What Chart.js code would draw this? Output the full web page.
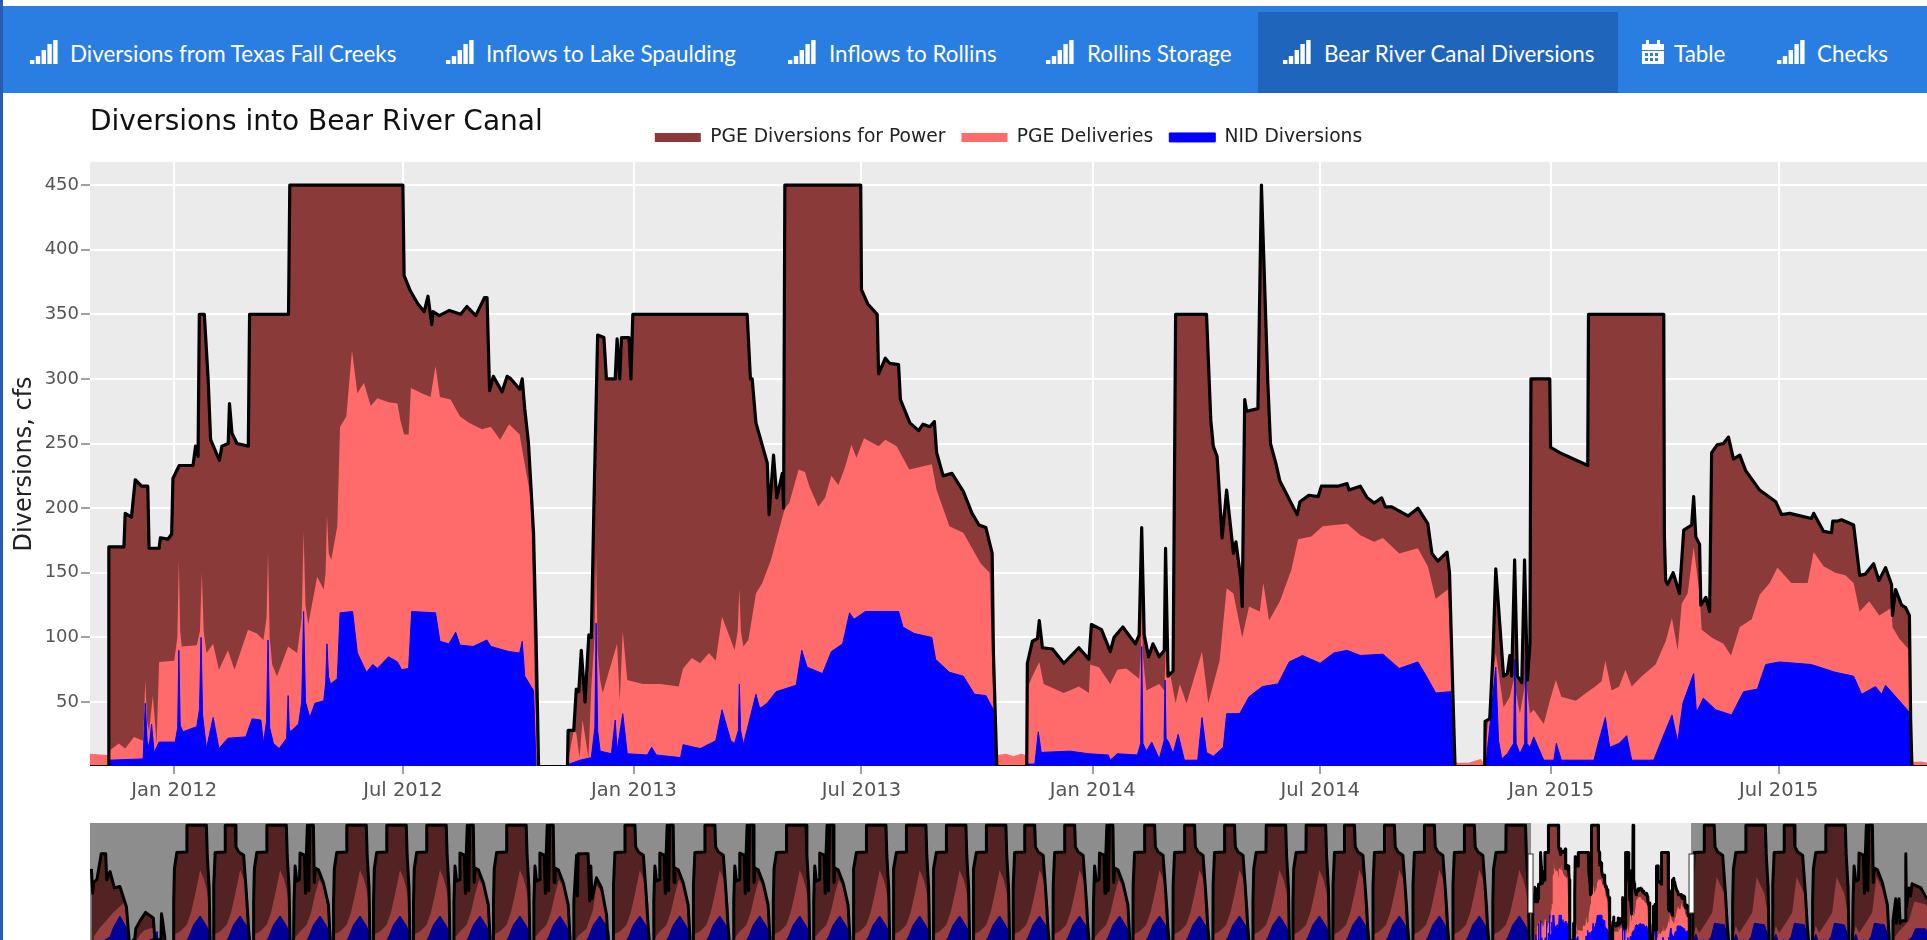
<!DOCTYPE html>
<html>
<head>
<meta charset="utf-8">
<title>Bear River Canal Diversions</title>
<script src="https://cdn.jsdelivr.net/npm/chart.js@4"></script>
<style>
  html, body { margin: 0; padding: 0; width: 1927px; height: 940px; overflow: hidden; background: #fff; }
  #edge { position: absolute; left: 0; top: 0; width: 3px; height: 940px; background: #2a5cb3; }
  #nav { position: absolute; left: 3px; top: 6px; width: 1924px; height: 87px; background: #2a7de1; }
  #active { position: absolute; left: 1258px; top: 12px; width: 360px; height: 81px; background: #1f65bb; }
  .tab { position: absolute; top: 40px; height: 28px; line-height: 28px; color: #fff; white-space: nowrap;
         font-family: Lato, sans-serif; font-size: 22.4px; }
  .tab svg { position: absolute; top: 0; fill: #fff; }
  #mainChart { position: absolute; left: 0; top: 93px; }
  #sliderChart { position: absolute; left: 0; top: 823px; }
</style>
</head>
<body>
<div id="edge"></div>
<div id="nav"></div>
<div id="active"></div>
<svg width="0" height="0" style="position:absolute">
  <symbol id="bars" viewBox="0 0 28 24"><rect x="0" y="20" width="4.4" height="4"/><rect x="5.8" y="16" width="4.4" height="8"/><rect x="11.6" y="10" width="4.4" height="14"/><rect x="17.4" y="4" width="4.4" height="20"/><rect x="23.2" y="0" width="4.4" height="24"/></symbol>
  <symbol id="calendar" viewBox="0 0 22 24"><path d="M0 4h4V0h3v4h8V0h3v4h4v6H0zM0 11h22v13H0zM3 13v3h3v-3zM8 13v3h3v-3zM13 13v3h3v-3zM3 18v3h3v-3zM8 18v3h3v-3zM13 18v3h3v-3z" fill-rule="evenodd"/></symbol>
</svg>
<div id="tabs"></div>
<canvas id="mainChart" width="1927" height="722"></canvas>
<canvas id="sliderChart" width="1927" height="117"></canvas>

<script>
// Nav bar
const tabLabels = ['Diversions from Texas Fall Creeks', 'Inflows to Lake Spaulding', 'Inflows to Rollins', 'Rollins Storage', 'Bear River Canal Diversions', 'Table', 'Checks']
const tabIcons = ['bars', 'bars', 'bars', 'bars', 'bars', 'calendar', 'bars']
const tabIconLeft = [30, 446, 788, 1046, 1283, 1642, 1777]
const tabTextLeft = [70, 486, 829, 1087, 1324, 1674, 1817]

// Axes. X values are days counted from 1 Jan 2012
const tickDays = [0, 182, 366, 547, 731, 912, 1096, 1277]
const tickLabels = ['Jan 2012', 'Jul 2012', 'Jan 2013', 'Jul 2013', 'Jan 2014', 'Jul 2014', 'Jan 2015', 'Jul 2015']
const yTicks = [50, 100, 150, 200, 250, 300, 350, 400, 450]
const windowDays = [-67, 1395]
const sliderDays = [-13234, 3551]

// Series as [day, cfs], one list per water year
const total2012 = [[-67,0],[-52.5,0],[-52,170],[-40,170],[-39,196],[-34,193],[-31,222],[-26,217],[-21,217],[-20,169],[-12,169],[-11,177],[-5,176],[-2,180],[-1,223],[4,233],[15,233],[17,248],[19,240],[20,350],[24,350],[27,300],[29,253],[36,237],[38,248],[43,250],[44,281],[46,258],[50,250],[59,248],[60,350],[91,350],[92,450],[182,450],[183,380],[188,368],[194,358],[199,352],[202,364],[205,342],[206,352],[211,349],[219,353],[228,350],[233,356],[240,349],[247,363],[249,363],[251,291],[254,302],[261,290],[265,302],[268,300],[275,292],[277,300],[279,277],[282,250],[286,181],[288,100],[290,0]]
const total2013 = [[291,0],[313,0],[313.5,28],[318,28],[320,60],[322,58],[324,90],[327,50],[330,102],[332,100],[334,200],[337,334],[342,332],[344,300],[351,300],[352.5,331],[354.6,300],[356,332],[362,332],[363.5,300],[365,350],[456,350],[458.6,300],[460,300],[463,266],[472,235],[473.5,195],[477,241],[479.6,208],[484,227],[485,200],[486,450],[546.4,450],[547,369],[552,358],[559.5,350],[560.6,304],[566,316],[569.5,312],[576.5,311],[578,284],[585.5,266],[592.5,260],[596,265],[601.4,263],[605,267],[606.8,243],[612,225],[619,227],[628,213],[635,196],[640.5,187],[646,185],[651,165],[652,88],[654.7,0]]
const total2014 = [[655,0],[678.5,0],[679,80],[683,97],[687,99],[688.5,113],[691,92],[699,91],[708,80],[713,85],[720,92],[728,83],[730,110],[738,106],[745,89],[748,100],[755,108],[765,95],[768,102],[770,185],[772,102],[775.5,85],[779,95],[784,85],[788,90],[789,169],[791,70],[795,74],[797,350],[821.6,350],[825,268],[827,248],[830,240],[834,177],[837.6,214],[843,165],[845,174],[849,144],[850,124],[852,284],[853.5,275],[862.5,277],[865.3,450],[870.3,299],[872.5,250],[876.7,235],[880,221],[893.7,195],[896,205],[903,210],[910.5,209],[913,217],[926,217],[933.5,219],[935,214],[944,217],[949.5,208],[955,204],[961,208],[964,201],[969,201],[982,194],[989.8,200],[997.7,188],[1001,165],[1005.7,159],[1013,166],[1015,150],[1017.5,62],[1019.4,0]]
const total2015 = [[1020,0],[1043,0],[1043.3,35],[1047,37],[1049.6,88],[1051.8,153],[1058,70],[1061,72],[1063,86],[1064.5,70],[1066.8,160],[1069,70],[1072.5,65],[1074.7,160],[1077,67],[1079,95],[1079.8,300],[1094.8,300],[1095.4,247],[1102.7,243],[1125,233],[1125.6,350],[1185.5,350],[1186,178],[1187,144],[1188.6,141],[1193,150],[1198,134],[1201.4,183],[1207.7,187],[1209.3,209],[1211,178],[1214,172],[1215,125],[1219,131],[1222,120],[1223.6,243],[1228,249],[1233,250],[1237,255],[1241,238],[1246,241],[1250.7,229],[1261.8,214],[1274.6,205],[1279.3,195],[1285.7,196],[1303,192],[1304.8,196],[1312.7,182],[1319,181],[1320,190],[1324,190],[1327,191],[1336.6,187],[1341.4,148],[1346,149],[1352.5,157],[1356.7,144],[1362,154],[1366.8,141],[1367.5,117],[1370,137],[1374.8,125],[1378,123],[1381,117],[1382,36],[1383,0],[1395,0]]

const pge2012 = [[-67,10],[-53,9],[-50.7,13],[-44,18],[-39,14],[-32,23],[-24.7,20],[-23,67],[-21.5,35],[-20,27],[-17,55],[-14,18],[-12,81],[0,82],[2.5,100],[3.7,160],[4.8,105],[6,93],[18,94],[20.5,105],[22,150],[23.5,105],[25.7,88],[31,95],[35.6,75],[42.8,90],[48,75],[58.7,106],[65.8,103],[71,98],[73.5,115],[74.7,166],[76,100],[78,79],[81.8,70],[90.7,93],[97.8,88],[101.5,115],[103,182],[104.5,125],[106.7,110],[113.8,147],[119,137],[120.5,150],[121.6,195],[123,165],[125,160],[129.8,186],[132,263],[137,271],[141.5,322],[145.8,289],[151,297],[156.4,279],[161.7,285],[170.6,282],[177.7,281],[180,268],[183,257],[186.6,257],[188.4,293],[197,289],[204,286],[208,310],[211.5,286],[220,284],[227.5,271],[234.6,266],[245,261],[252,263],[259.4,253],[266.5,265],[275,257],[277,245],[284,207],[287,62],[289.6,0]]
const pge2013 = [[290,0],[312,0],[313,2],[318,28],[320,26],[322.6,7],[325,36],[329.7,7],[332,62],[334.5,100],[335.8,166],[337,90],[339,67],[341,57],[352.5,95],[354.6,51],[357,105],[360.6,67],[373,64],[387,64],[401.5,62],[405,76],[412,84],[418.6,80],[425.6,88],[431,82],[436,116],[443,98],[446,90],[448.5,105],[449.8,138],[451,105],[453,93],[457,98],[463,134],[468,142],[475,160],[480.7,181],[486,200],[489.5,204],[497,230],[502,228],[505.5,217],[512.6,201],[518,208],[523,225],[528.6,218],[534,232],[539,249],[543,239],[549,254],[560.6,248],[566,253],[575,248],[585,230],[603,234],[606.8,214],[617,186],[628,181],[635,169],[642,157],[649,150],[652,49],[654.7,9]]
const pge2014 = [[655,9],[662,10],[668,8],[674,10],[678,9],[679.6,62],[683,70],[688.5,81],[692,64],[708,57],[720,62],[728,57],[729,79],[736,77],[745,64],[750.6,75],[757.7,76],[768,68],[769.3,85],[770,126],[771,85],[773.7,59],[784,64],[788,59],[789.7,107],[791,80],[793,70],[797,49],[800.3,64],[805.7,49],[818,89],[823,49],[832,82],[837.6,138],[843,134],[850,100],[855.4,124],[864,120],[866.8,142],[871.4,113],[880,128],[889,152],[894.5,176],[905,178],[914,186],[933.5,188],[944,179],[955,174],[962,177],[975,165],[989.8,169],[997.7,155],[1004,130],[1013.6,137],[1016,88],[1018.4,10],[1019.4,2]]
const pge2015 = [[1020,3],[1030,3],[1040,6],[1042,3],[1051.8,88],[1058,46],[1063,54],[1066,67],[1071,41],[1075.7,67],[1079,41],[1082,44],[1090,33],[1094.8,51],[1099.6,67],[1104,54],[1115.5,51],[1125,58],[1131,62],[1136,66],[1139,82],[1144,59],[1150,62],[1155,75],[1160,62],[1168,70],[1179,79],[1187,97],[1192,115],[1196.6,90],[1199.8,126],[1204.5,134],[1209.3,170],[1214,134],[1215.7,106],[1223.6,100],[1233,95],[1239,86],[1246,108],[1255.5,114],[1261.8,133],[1269.8,142],[1276,154],[1287,142],[1300,142],[1304.8,166],[1312.7,155],[1322,150],[1330,148],[1336.6,142],[1341.4,120],[1349,128],[1357,117],[1366.8,123],[1367.5,108],[1373,99],[1381,90],[1382,36],[1383,3.5],[1390,4],[1395,3]]

const nid2012 = [[-67,0],[-53,0],[-51.4,5],[-24.7,6],[-23,49],[-21.5,20],[-20,14],[-18,33],[-16,11],[-12,19],[0.8,19],[2.8,30],[3.7,90],[4.8,32],[7,27],[18,31],[20.2,45],[21.4,100],[22.6,40],[25.7,14],[31,38],[35.6,14],[42.8,22],[57,23],[62,37],[69,36],[71,18],[73.5,35],[74.7,98],[76,30],[79,18],[83.6,14],[89.5,22],[90.7,55],[91.6,30],[92.5,27],[99,33],[101.5,50],[103,120],[104.5,50],[108,38],[112,49],[119,51],[120.6,65],[121.6,95],[122.8,70],[124.4,64],[129.8,68],[132,119],[142,120],[145.8,88],[153,73],[158,79],[161.7,76],[170.6,85],[177.7,81],[181,75],[186.6,76],[189,120],[208,119],[211.5,97],[218.6,95],[224,104],[227.5,94],[238,93],[248.8,98],[252,93],[266.5,89],[275,88],[277,97],[279,70],[284,62],[286,59],[288,0]]
const nid2013 = [[289,0],[312,0],[314.5,2],[323,5],[332,7],[334.8,30],[335.8,111],[337,28],[339,12],[348,10],[351,36],[352.5,12],[357,41],[360.6,10],[376.6,9],[380,15],[383.7,9],[403,7],[405,17],[418.6,14],[431,20],[436,44],[443,20],[446,18],[449,28],[449.8,64],[450.8,28],[453,17],[463,56],[466,45],[471.8,49],[479,58],[495,63],[499.5,90],[503.7,77],[516,72],[523,89],[532,95],[537.5,119],[541,114],[550,120],[576.6,120],[580,108],[589,103],[603,100],[606,83],[617,73],[628,70],[637,56],[646,55],[652,44],[654.7,0]]
const nid2014 = [[678,0],[679.6,2],[685,2],[687.7,27],[690,11],[713,12],[727.5,10],[743.5,9],[745,5],[750.6,10],[766.6,9],[769.2,18],[770,93],[771,18],[773.7,12],[778,19],[784,6],[787.8,20],[788.6,67],[789.4,22],[791.5,19],[795,10],[799,25],[804,5],[814.6,5],[818,38],[821.6,11],[827,8],[835,15],[837.6,41],[848,41],[855.4,54],[866,62],[878.5,64],[887.4,81],[898,86],[912,80],[923,88],[933.5,90],[944,86],[962,87],[975,76],[989.8,81],[996,71],[1004,57],[1016,58],[1018.4,0]]
const nid2015 = [[1020,0],[1043,0],[1044,2],[1048.6,46],[1051.8,77],[1054,20],[1056.6,6],[1061,10],[1066,18],[1067,83],[1068,18],[1071,10],[1074.8,18],[1075.7,83],[1076.7,18],[1079,15],[1082,23],[1090,5],[1098,5],[1100,18],[1104,5],[1130,5],[1133,17],[1139,38],[1142.5,15],[1150,18],[1156,24],[1160,5],[1177.5,5],[1184,21],[1192,40],[1196.6,19],[1200.7,49],[1209.3,72],[1211.5,42],[1217,53],[1226.8,44],[1239.5,40],[1249,58],[1260,60],[1266.6,79],[1277.7,81],[1303,79],[1322,73],[1336.6,70],[1343,56],[1354,62],[1358.9,56],[1362,63],[1373,51],[1381,42],[1383,0],[1395,0]]

// Range slider: the whole record, read year by year as one of a few seasonal shapes.
// [day of the season, cfs]
const shapeTotalA = [[0,0],[1,170],[8,290],[30,350],[120,352],[122,450],[300,450],[308,340],[325,220],[335,0]]
const shapeTotalB = [[0,0],[2,230],[15,350],[105,352],[107,450],[198,450],[205,370],[230,352],[275,340],[300,200],[318,80],[335,0]]
const shapeTotalC = [[0,0],[5,170],[15,300],[30,245],[55,250],[60,348],[100,340],[110,200],[118,345],[127,450],[140,210],[150,450],[182,450],[190,240],[198,293],[228,286],[274,238],[319,158],[340,0]]
const shapeTotalD = [[0,0],[5,170],[30,340],[38,190],[45,345],[135,345],[150,172],[160,300],[170,180],[212,257],[258,220],[304,121],[320,0]]
const shapeTotalF = [[-20,290],[-8,200],[0,240],[30,250],[70,345],[110,345],[120,250],[150,280],[190,220],[240,225],[300,150],[330,0]]
const shapeTotalL = [[0,30],[10,30],[20,70],[60,100],[110,130],[180,110],[195,30],[250,30],[255,125],[265,100],[290,20],[300,0]]
const shapeTotalH = [[0,0],[5,100],[30,180],[35,90],[60,180],[70,90],[90,100],[120,100],[122,345],[128,150],[150,220],[165,190],[180,235],[260,220],[300,190],[320,180]]

const shapePge = [[0,30],[10,50],[60,60],[120,84],[160,130],[196,194],[243,286],[280,250],[305,209],[325,150],[335,0]]
const shapePgeLow = [[0,30],[60,60],[120,84],[160,130],[200,200],[235,250],[274,225],[319,150],[335,0]]
const shapePgeD = [[0,20],[60,50],[120,70],[180,140],[212,230],[258,205],[304,115],[318,0]]
const shapePgeF = [[0,40],[50,70],[180,130],[290,170],[320,100],[330,0]]
const shapePgeL = [[0,10],[60,50],[100,65],[180,75],[195,10],[255,10],[300,0]]
const shapePgeLate = [[0,30],[30,80],[60,55],[120,90],[180,130],[220,260],[290,200],[320,130],[335,0]]
const shapePgeH = [[0,30],[60,60],[150,100],[200,170],[300,160],[320,150]]

const shapeNid = [[0,5],[100,15],[140,40],[183,84],[243,117],[300,81],[325,60],[335,0]]
const shapeNidF = [[0,5],[150,40],[180,73],[240,117],[300,73],[330,0]]
const shapeNidL = [[0,2],[60,12],[100,20],[180,35],[195,30],[215,60],[230,0],[300,0]]
const shapeNidLate = [[0,10],[30,50],[60,15],[100,30],[120,15],[170,40],[200,90],[290,85],[320,50],[335,0]]
const shapeNidH = [[0,5],[100,15],[180,40],[210,70],[300,70],[320,60]]

const sliderKinds = {
    A: [shapeTotalA, shapePge, shapeNid],
    B: [shapeTotalB, shapePge, shapeNid],
    C: [shapeTotalC, shapePgeLow, shapeNid],
    D: [shapeTotalD, shapePgeD, shapeNid],
    F: [shapeTotalF, shapePgeF, shapeNidF],
    L: [shapeTotalL, shapePgeL, shapeNidL],
    a: [shapeTotalA, shapePgeLate, shapeNidLate],
    b: [shapeTotalB, shapePgeLate, shapeNidLate],
    c: [shapeTotalC, shapePgeLate, shapeNidLate],
    H: [shapeTotalH, shapePgeH, shapeNidH]
}
const firstSeasonDay = -13201
const yearLength = 365.25
// one letter per year, left to right; R = the four years shown in the main plot
const sliderYears = ['F','L','A','B','A','C','A','A','A','C','A','C','D','B','C','B','C','A','C','A','A','A','A','B','B','C','B','B','B','A','A','B','B','B','B','A','R','R','R','R','b','a','b','a','c','H']

const COLORS = { power: '#8b3a3a', deliveries: '#ff6a6a', nid: '#0000ff', outline: '#000000', panel: '#ebebeb', tick: '#555555', tickMark: '#444444' }

const toPoints = (...years) => years.flat().map(([day, cfs]) => ({ x: day, y: cfs }))

const totalPoints = toPoints(total2012, total2013, total2014, total2015)
const pgePoints = toPoints(pge2012, pge2013, pge2014, pge2015)
const nidPoints = toPoints(nid2012, nid2013, nid2014, nid2015)

function sliderSeries(kindIndex, recordPoints) {
    const points = []
    sliderYears.forEach((kind, i) => {
        if (kind === 'R') {
            if (sliderYears[i - 1] !== 'R') points.push(...recordPoints)
            return
        }
        const start = firstSeasonDay + i * yearLength
        sliderKinds[kind][kindIndex].forEach(([day, cfs]) => points.push({ x: start + day, y: cfs }))
    })
    return points
}

function areaDatasets(total, pge, nid, outlineWidth) {
    return [
        { label: 'PGE Diversions for Power', data: total, backgroundColor: COLORS.power, borderColor: COLORS.power, borderWidth: 0, fill: 'start', order: 3 },
        { label: 'PGE Deliveries', data: pge, backgroundColor: COLORS.deliveries, borderColor: COLORS.deliveries, borderWidth: 0, fill: 'start', order: 2 },
        { label: 'NID Diversions', data: nid, backgroundColor: COLORS.nid, borderColor: COLORS.nid, borderWidth: 1, fill: 'start', order: 1 },
        { label: 'outline', data: total, borderColor: COLORS.outline, borderWidth: outlineWidth, borderJoinStyle: 'round', fill: false, order: 0 }
    ]
}

const panelBackground = {
    id: 'panelBackground',
    beforeDraw(chart) {
        const { ctx, chartArea: a } = chart
        ctx.save()
        ctx.fillStyle = COLORS.panel
        ctx.fillRect(a.left, a.top, a.right - a.left, a.bottom - a.top)
        ctx.restore()
    }
}

// The legend sits on the title line, higher than the layout would put it
const liftLegend = {
    id: 'liftLegend',
    afterLayout(chart) {
        chart.legend.top -= 5
        chart.legend.bottom -= 5
    }
}

// Grey mask outside the selected window and the two white grips
const sliderMask = {
    id: 'sliderMask',
    afterDraw(chart) {
        const { ctx, chartArea: a, scales: { x } } = chart
        const from = x.getPixelForValue(windowDays[0])
        const to = x.getPixelForValue(windowDays[1])
        ctx.save()
        ctx.fillStyle = 'rgba(0,0,0,0.4)'
        ctx.fillRect(a.left, a.top, from - a.left, a.bottom - a.top)
        ctx.fillRect(to, a.top, a.right - to, a.bottom - a.top)
        ctx.fillStyle = '#ffffff'
        ctx.strokeStyle = '#333333'
        ctx.lineWidth = 1
        ;[from - 3, to - 2].forEach(left => {
            ctx.fillRect(left, a.top + 31, 5, 59)
            ctx.strokeRect(left, a.top + 31, 5, 59)
        })
        ctx.restore()
    }
}

// Tabs
const tabs = document.getElementById('tabs')
tabLabels.forEach((label, i) => {
    const tab = document.createElement('div')
    tab.className = 'tab'
    tab.style.left = tabTextLeft[i] + 'px'
    tab.textContent = label
    const icon = tabIcons[i] === 'bars' ? 28 : 22
    tab.insertAdjacentHTML('afterbegin', `<svg width="${icon}" height="24" style="left:${tabIconLeft[i] - tabTextLeft[i]}px"><use href="#${tabIcons[i]}"/></svg>`)
    tabs.appendChild(tab)
})

Chart.defaults.animation = false
Chart.defaults.responsive = false
Chart.defaults.devicePixelRatio = 1
Chart.defaults.elements.point.radius = 0
Chart.defaults.elements.line.tension = 0

new Chart(document.getElementById('mainChart'), {
    type: 'line',
    data: { datasets: areaDatasets(totalPoints, pgePoints, nidPoints, 3.2) },
    plugins: [panelBackground, liftLegend],
    options: {
        parsing: false,
        layout: { padding: 0 },
        plugins: {
            tooltip: { enabled: false },
            title: {
                display: true,
                text: 'Diversions into Bear River Canal',
                align: 'start',
                fullSize: false,
                color: '#111111',
                font: { family: '"DejaVu Sans"', size: 28, weight: 'normal' },
                padding: { top: 13, bottom: -22.5 }
            },
            legend: {
                display: true,
                fullSize: false,
                position: 'top',
                labels: {
                    boxWidth: 46,
                    boxHeight: 9,
                    padding: 16,
                    color: '#222222',
                    font: { family: '"DejaVu Sans"', size: 18.7 },
                    sort: (a, b) => a.datasetIndex - b.datasetIndex,
                    filter: item => item.text !== 'outline'
                }
            }
        },
        scales: {
            x: {
                type: 'linear',
                min: windowDays[0],
                max: windowDays[1],
                border: { display: false },
                grid: { color: '#ffffff', lineWidth: 2, tickColor: COLORS.tickMark, tickLength: 8, tickWidth: 1 },
                ticks: {
                    color: COLORS.tick,
                    autoSkip: false,
                    maxRotation: 0,
                    padding: 5,
                    font: { family: '"DejaVu Sans"', size: 19.5 },
                    callback: (value, index) => tickLabels[index]
                },
                afterBuildTicks: axis => { axis.ticks = tickDays.map(value => ({ value })) },
                afterFit: axis => { axis.height = 49 }
            },
            y: {
                min: 0.5,
                max: 468,
                border: { display: false },
                grid: { color: '#ffffff', lineWidth: 2, tickColor: COLORS.tickMark, tickLength: 9, tickWidth: 1 },
                ticks: {
                    color: COLORS.tick,
                    padding: 2,
                    font: { family: '"DejaVu Sans"', size: 18 }
                },
                title: {
                    display: true,
                    text: 'Diversions, cfs',
                    color: '#222222',
                    font: { family: '"DejaVu Sans"', size: 24 },
                    padding: { top: 10, bottom: 0 }
                },
                afterBuildTicks: axis => { axis.ticks = yTicks.map(value => ({ value })) },
                afterFit: axis => { axis.width = 90 }
            }
        }
    }
})

new Chart(document.getElementById('sliderChart'), {
    type: 'line',
    data: { datasets: areaDatasets(sliderSeries(0, totalPoints), sliderSeries(1, pgePoints), sliderSeries(2, nidPoints), 3) },
    plugins: [panelBackground, sliderMask],
    options: {
        parsing: false,
        layout: { padding: { left: 90, right: 0, top: 0, bottom: 0 } },
        plugins: { legend: { display: false }, title: { display: false }, tooltip: { enabled: false } },
        scales: {
            x: { type: 'linear', display: false, min: sliderDays[0], max: sliderDays[1] },
            y: { display: false, min: 29, max: 458 }
        }
    }
})
</script>
</body>
</html>
